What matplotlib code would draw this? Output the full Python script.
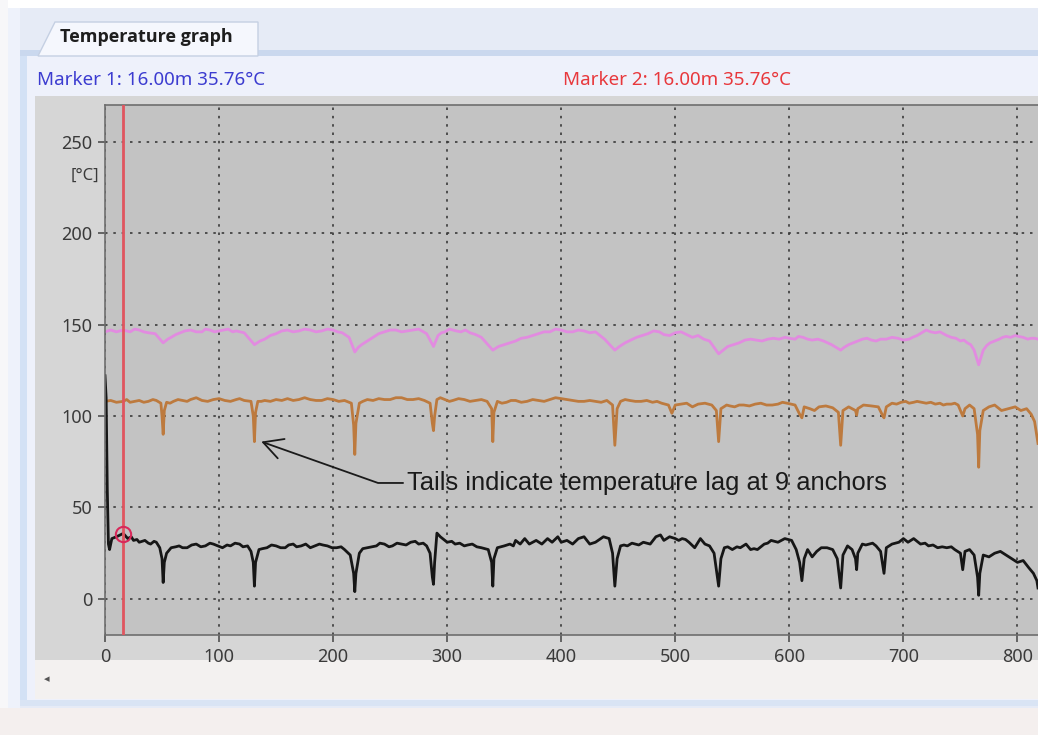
import matplotlib
matplotlib.use("Agg")
import matplotlib.pyplot as plt
from matplotlib.patches import Rectangle, Polygon

W, H = 1038, 735

# distance [m], temperature [°C]
black_pts = [
    (0, 122), (1, 110), (2, 60), (3, 30), (4, 27), (6, 33), (10, 34), (16, 35.8), (20, 33),
    (23, 34), (25, 32), (28, 32.5), (30, 31), (35, 32), (38, 30.5), (40, 30), (43, 31.5),
    (45, 31), (48, 28), (50, 22), (51, 9), (52, 20), (54, 25), (58, 28), (62, 28.5), (65, 29),
    (68, 28), (72, 28), (76, 29.5), (80, 30), (84, 28.5), (88, 29), (92, 30.5), (95, 30),
    (99, 29), (103, 28), (107, 29.5), (110, 29), (114, 30.5), (118, 30), (121, 28.5), (125, 29),
    (128, 26), (130, 20), (131, 7), (132, 20), (135, 27), (138, 27.5), (142, 28), (146, 29.5),
    (150, 29), (154, 28), (158, 28), (161, 29.5), (165, 30), (168, 28.5), (172, 29), (176, 30),
    (180, 28), (184, 29), (188, 30), (191, 29.5), (195, 29), (199, 28), (203, 28), (207, 28.5),
    (210, 27), (215, 24), (218, 14), (219, 4), (220, 14), (223, 25), (226, 27.5), (230, 28),
    (234, 28.5), (238, 29), (241, 30.5), (245, 30), (249, 28.5), (252, 29), (256, 30.5),
    (260, 30), (264, 29.5), (268, 31), (272, 31.5), (275, 30), (279, 30.5), (282, 29),
    (285, 25), (287, 12), (288, 8), (289, 20), (291, 36), (294, 34), (297, 32.5), (300, 31),
    (304, 31.5), (307, 30), (311, 30.5), (315, 29), (318, 29.5), (322, 30), (326, 28.5),
    (330, 28), (336, 27), (339, 20), (340, 7), (341, 22), (344, 28), (347, 28.5), (350, 29),
    (355, 30), (358, 29), (360, 32), (364, 30), (368, 33), (372, 30), (378, 32), (383, 30),
    (388, 33), (392, 31), (397, 34), (400, 31), (405, 32), (410, 30), (415, 33), (420, 34),
    (425, 30), (430, 31), (437, 34), (442, 33), (445, 25), (447, 7), (449, 22), (452, 29),
    (455, 29.5), (458, 29), (462, 30.5), (465, 30), (468, 29.5), (472, 31), (478, 30),
    (483, 34), (487, 35), (490, 32), (495, 34), (500, 33), (503, 32), (506, 33), (509, 32.5),
    (512, 31), (517, 28), (522, 33), (526, 30), (530, 29), (534, 25), (538, 7), (540, 22),
    (543, 28), (546, 28.5), (550, 27), (554, 28.5), (557, 28), (562, 30), (566, 27), (569, 27.5),
    (572, 27), (578, 30), (581, 30.5), (584, 32), (587, 31.5), (590, 31), (593, 32), (596, 33),
    (599, 32.5), (602, 32), (606, 27), (609, 20), (611, 10), (613, 22), (616, 27), (620, 23),
    (624, 26), (628, 28), (633, 28), (638, 27), (642, 22), (645, 6), (647, 24), (651, 29),
    (655, 27), (658, 22), (659, 16), (660, 25), (664, 30), (667, 29.5), (670, 30), (673, 30.5),
    (676, 29), (680, 26), (683, 14), (685, 28), (690, 30), (693, 30.5), (696, 31), (700, 33),
    (704, 31), (709, 33), (712, 31.5), (715, 30), (719, 30.5), (722, 29), (726, 29.5), (730, 28),
    (734, 28.5), (738, 28), (742, 28.5), (745, 27), (750, 25), (752, 16), (754, 26), (758, 27),
    (762, 24), (765, 12), (766, 2), (767, 14), (770, 24), (775, 23), (780, 25), (785, 26),
    (790, 24), (795, 22), (800, 20), (805, 21), (810, 17), (814, 14), (817, 10), (818, 6),
]

brown_pts = [
    (0, 108), (5, 108.5), (10, 107.5), (16, 108), (19, 109), (22, 107.5), (26, 108), (30, 108.5),
    (34, 107.5), (38, 108), (42, 109), (45, 108.5), (49, 107), (50, 100), (51, 90), (52, 103),
    (54, 107.5), (57, 107), (60, 108), (64, 109), (68, 108.5), (72, 108), (75, 109), (80, 110),
    (85, 108.5), (90, 108), (95, 109), (100, 109.5), (105, 108.5), (110, 108), (115, 109),
    (118, 109.5), (122, 108.5), (128, 108), (130, 100), (131, 86), (132, 102), (134, 108),
    (137, 108), (140, 108.5), (145, 108), (150, 109), (155, 108.5), (160, 109.5), (165, 108.5),
    (170, 109), (175, 110), (180, 109), (185, 108.5), (190, 108.5), (195, 109.5), (200, 109),
    (205, 108), (210, 108.5), (216, 107), (218, 95), (219, 79), (220, 96), (223, 107), (226, 108),
    (230, 109), (235, 108.5), (240, 109.5), (245, 109), (250, 109), (255, 110), (260, 110),
    (265, 109), (270, 109), (275, 109.5), (280, 108.5), (285, 107), (287, 96), (288, 92),
    (289, 100), (291, 109), (294, 110), (298, 109), (302, 108), (305, 108.5), (310, 109.5),
    (315, 109), (320, 108), (325, 108.5), (330, 109), (335, 108), (339, 104), (340, 86),
    (341, 102), (344, 108), (348, 107), (352, 107.5), (356, 108.5), (360, 108.5), (365, 107.5),
    (370, 108), (375, 109), (380, 108.5), (385, 108), (390, 109), (395, 110), (400, 109.5),
    (405, 109), (410, 108.5), (415, 108), (420, 108), (425, 108.5), (430, 108), (435, 107.5),
    (440, 108.5), (445, 106), (447, 84), (449, 104), (452, 108), (456, 109), (460, 108.5),
    (465, 108), (470, 108), (475, 108.5), (480, 107.5), (484, 108), (488, 107), (494, 106),
    (497, 101.5), (500, 106), (505, 106.5), (510, 107), (515, 105), (520, 106.5), (526, 107),
    (532, 106), (536, 103), (538, 86), (540, 104), (545, 106), (548, 105.5), (552, 105),
    (556, 106), (560, 106), (565, 105.5), (570, 106.5), (575, 107), (580, 106), (585, 106),
    (590, 106.5), (594, 107.5), (598, 107), (605, 106), (609, 101), (611, 99), (613, 105),
    (618, 104), (622, 103), (626, 105), (632, 105.5), (638, 104.5), (643, 102), (645, 84),
    (647, 103), (652, 105), (658, 103), (659, 100.5), (660, 104), (665, 106), (672, 105.5),
    (678, 105), (682, 100), (683, 99), (685, 105), (690, 107), (694, 106.5), (698, 107.5),
    (702, 108), (705, 107), (709, 107.5), (712, 108), (716, 107.5), (720, 107), (724, 107.5),
    (728, 106.5), (732, 107), (735, 106), (738, 106.5), (742, 106.5), (745, 107), (748, 106),
    (752, 100), (754, 104), (758, 106), (762, 104), (765, 90), (766, 72), (767, 92), (770, 103),
    (775, 105), (780, 106), (786, 103), (792, 104), (798, 105), (803, 103), (808, 104),
    (812, 101), (815, 97), (818, 85),
]

pink_pts = [
    (0, 146), (5, 147), (10, 146), (16, 147), (22, 146), (26, 147.5), (30, 147), (34, 146),
    (38, 145.5), (44, 145), (51, 140), (55, 142), (58, 143), (62, 144.5), (66, 145.5),
    (70, 146.5), (75, 147), (80, 146), (85, 146), (88, 147.5), (92, 147), (96, 146),
    (100, 146.5), (104, 147), (108, 147.5), (112, 146), (115, 146.5), (122, 145.5), (131, 139),
    (136, 141), (140, 142), (145, 144), (150, 145), (155, 146.5), (160, 147), (165, 146),
    (170, 146.5), (175, 147.5), (180, 147), (185, 146), (190, 146.5), (195, 147.5), (200, 147),
    (204, 146), (208, 145.5), (214, 143), (219, 135), (222, 137.5), (225, 139), (230, 141),
    (235, 143), (240, 145), (245, 146), (250, 147), (255, 147), (260, 146), (265, 146.5),
    (270, 147), (275, 147.5), (282, 145), (288, 138), (292, 144), (295, 145.5), (298, 146),
    (302, 147.5), (305, 147), (308, 146.5), (312, 146), (316, 147), (320, 145.5), (325, 144.5),
    (330, 143), (340, 136), (345, 138), (350, 139), (355, 140), (360, 141), (365, 142.5),
    (370, 143), (375, 144), (380, 145), (385, 146), (390, 146), (395, 147.5), (400, 147),
    (405, 146), (410, 146), (415, 147), (420, 146.5), (425, 145.5), (430, 146), (434, 144),
    (438, 142), (447, 136), (451, 138), (456, 140), (461, 141.5), (466, 143), (471, 144),
    (476, 145), (481, 146.5), (486, 146), (490, 144.5), (495, 144), (500, 145.5), (505, 146),
    (510, 144.5), (515, 143), (520, 144), (525, 142), (530, 141), (538, 134), (542, 136),
    (546, 138), (551, 139), (556, 140), (561, 141.5), (566, 142), (571, 141.5), (576, 141),
    (581, 142), (586, 142.5), (591, 142), (596, 143), (600, 142.5), (605, 142), (608, 143.5),
    (612, 143), (616, 142), (620, 141.5), (625, 142), (630, 141), (637, 139), (645, 136),
    (648, 137.5), (652, 139), (656, 140), (660, 141), (664, 142), (668, 142.5), (672, 141.5),
    (676, 141), (680, 142), (685, 142), (690, 143), (695, 142.5), (700, 141.5), (705, 142),
    (708, 143), (712, 144), (716, 145.5), (720, 147), (724, 146), (728, 145.5), (732, 146),
    (735, 145), (738, 144), (742, 143), (746, 142.5), (750, 141), (753, 141.5), (756, 140),
    (759, 139), (762, 136), (766, 128), (770, 136), (773, 138.5), (776, 140), (780, 141),
    (784, 142), (787, 143), (790, 143.5), (794, 143), (798, 144), (801, 143.5), (805, 143),
    (809, 142), (812, 142.5), (815, 142.5), (818, 142),
]

marker_pos = 16.00
marker_temp = 35.76
x_ticks = [0, 100, 200, 300, 400, 500, 600, 700, 800]
y_ticks = [0, 50, 100, 150, 200, 250]

ui_font = ["Noto Sans", "DejaVu Sans"]


def fig_xy(x, y):
    # screenshot pixel -> figure fraction
    return x / W, 1 - y / H


def box(fig, x0, y0, x1, y1, color, z=-10, **kw):
    fx, fy = fig_xy(x0, y1)
    fig.add_artist(Rectangle((fx, fy), (x1 - x0) / W, (y1 - y0) / H, transform=fig.transFigure,
                             facecolor=color, edgecolor="none", zorder=z, **kw))


fig = plt.figure(figsize=(W / 100, H / 100), dpi=100, facecolor="#f4efee")

# window chrome
box(fig, 0, 0, W, 8, "white")
box(fig, 0, 0, 8, 708, "#f7f7f9", z=-9.5)
box(fig, 8, 8, W, 708, "#e6ebf6")
box(fig, 8, 8, 20, 708, "#eef2fb", z=-9)
box(fig, 20, 56, 27, 705, "#d3e1f5", z=-9)
box(fig, 27, 56, W, 700, "#eef1fb", z=-9)
box(fig, 20, 50, W, 56, "#cad8ee", z=-9)
box(fig, 20, 700, W, 706, "#d9e4f4", z=-9)
tab = [fig_xy(38, 56), fig_xy(55, 22), fig_xy(258, 22), fig_xy(258, 56)]
fig.add_artist(Polygon(tab, closed=True, transform=fig.transFigure, facecolor="#f5f7fd",
                       edgecolor="#c5d0e3", lw=1, zorder=-8))
box(fig, 35, 96, W, 660, "#d6d6d6", z=-8)
box(fig, 35, 660, W, 699, "#f3f1f0", z=-8)

fig.text(*fig_xy(60, 37), "Temperature graph", fontsize=13, fontweight="bold",
         family=["Open Sans", "DejaVu Sans"], color="#1e1e1e", va="center", ha="left")
fig.text(*fig_xy(37, 80), "Marker 1: 16.00m 35.76°C", fontsize=13.5, family=ui_font,
         color="#3c3cd0", va="center", ha="left")
fig.text(*fig_xy(563, 80), "Marker 2: 16.00m 35.76°C", fontsize=13.5, family=ui_font,
         color="#e8383c", va="center", ha="left")
fig.text(*fig_xy(47, 680), "◂", fontsize=8, family=ui_font, color="#555555", va="center", ha="center")

# plot area
l, b = fig_xy(105, 635)
ax = fig.add_axes([l, b, 1 - l, (635 - 105) / H])
ax.set_facecolor("#c3c3c3")

ax.plot([p[0] for p in pink_pts], [p[1] for p in pink_pts], color="#e28be0", lw=2)
ax.plot([p[0] for p in brown_pts], [p[1] for p in brown_pts], color="#bd7a3e", lw=2)
ax.plot([p[0] for p in black_pts], [p[1] for p in black_pts], color="#161616", lw=2)

ax.axvline(marker_pos, color="#e0555f", lw=2, zorder=3)
ax.plot([marker_pos], [marker_temp], "o", ms=11, mfc="none", mec="#d8285a", mew=1.5, zorder=4)

ax.set_xlim(0, 818)
ax.set_ylim(-19.7, 270)
ax.set_xticks(x_ticks)
ax.set_yticks(y_ticks)
ax.grid(True, color="#3a3a3a", linestyle=(0, (1.5, 3.5)), lw=1.2)
ax.set_axisbelow(True)
ax.tick_params(direction="out", length=5, width=1.2, color="#505050", labelsize=13,
               labelcolor="#3a3a3a", pad=4)
for lab in ax.get_xticklabels() + ax.get_yticklabels():
    lab.set_family(ui_font)
for side in ["left", "top", "bottom"]:
    ax.spines[side].set_color("#6e6e6e")
    ax.spines[side].set_linewidth(1.2)
ax.spines["right"].set_visible(False)

ax.text(-0.006, 231.5, "[°C]", transform=ax.get_yaxis_transform(), ha="right", va="center",
        fontsize=12, family=ui_font, color="#3a3a3a")

ax.annotate("Tails indicate temperature lag at 9 anchors", xy=(137, 86), xytext=(265, 63.4),
            ha="left", va="center", fontsize=18.4, family=["Liberation Sans", "DejaVu Sans"],
            color="#1a1a1a",
            arrowprops=dict(arrowstyle="->,head_length=0.75,head_width=0.4", color="#1a1a1a", lw=1.3,
                            relpos=(0, 0.5), shrinkA=1, shrinkB=0,
                            connectionstyle="angle,angleA=0,angleB=-19.5,rad=0"))

fig.savefig("out.png", dpi=100, facecolor=fig.get_facecolor())
